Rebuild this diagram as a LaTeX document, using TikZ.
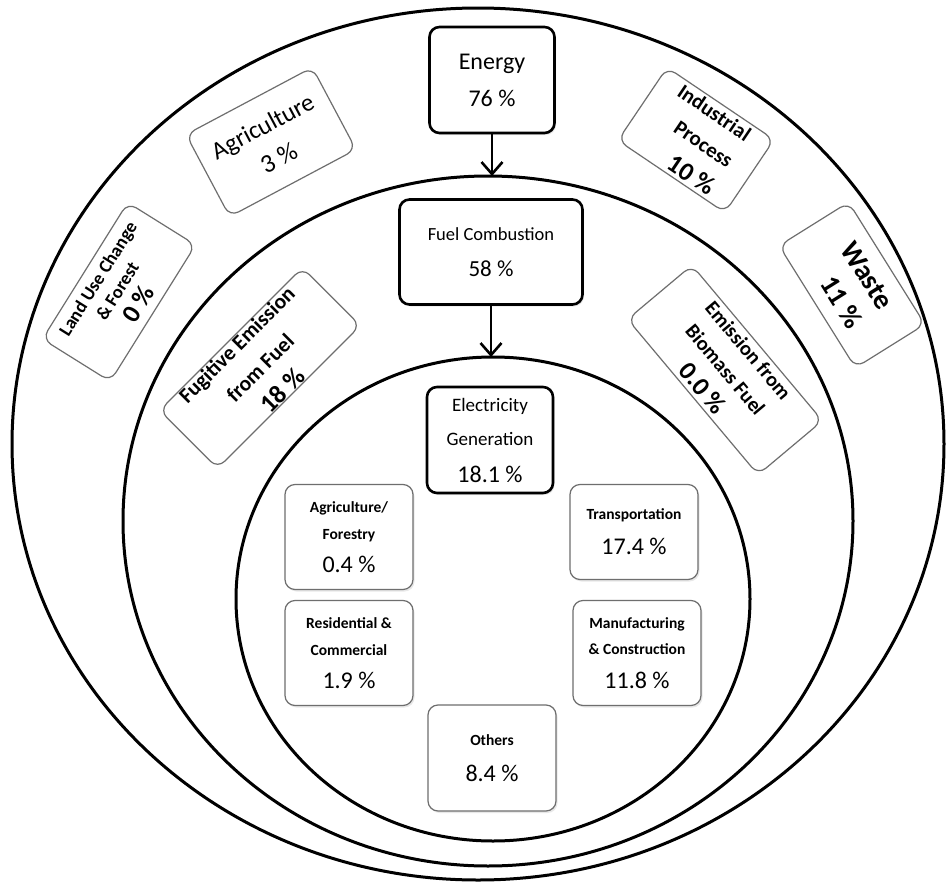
\documentclass[tikz,border=0pt]{standalone}
\usepackage{fontspec}
\setmainfont{Carlito}
\usetikzlibrary{arrows.meta,shadows}
\newcommand\myfs[2]{\fontsize{#1}{#2}\selectfont}
\definecolor{thinline}{HTML}{6E6E6E}
\begin{document}
\begin{tikzpicture}[x=1pt,y=-1pt,
  ring/.style={line width=3pt},
  soft/.style={drop shadow={opacity=0.18, shadow xshift=1.5pt, shadow yshift=-2pt}},
  mainbox/.style={draw, line width=2.6pt, rounded corners=10pt, align=center, inner sep=0pt, fill=white, soft},
  subbox/.style={draw=thinline, line width=1.2pt, rounded corners=10pt, align=center, inner sep=0pt, fill=white},
  flow/.style={line width=2.6pt, -{Straight Barb[length=12pt,width=21pt,line width=2.6pt]}}
]
\useasboundingbox[fill=white] (0,0) rectangle (946,886);
% rings
\draw[ring] (478,444) ellipse [x radius=466, y radius=436];
\draw[ring] (488,521) ellipse [x radius=365, y radius=345];
\draw[ring] (493,599) ellipse [x radius=257, y radius=242];
\coordinate (midtop) at (492,176);
\coordinate (intop) at (491,357);

% main chain
\node[mainbox, minimum width=125pt, minimum height=106pt, font=\myfs{24}{37}] (energy) at (492,80) {Energy\\76 \%};
\node[mainbox, minimum width=183pt, minimum height=105pt, font=\myfs{18.5}{36}] (fuel) at (491,252) {Fuel Combustion\\\myfs{23}{36}58 \%};
\node[mainbox, minimum width=126pt, minimum height=106pt, font=\myfs{19}{33}] (elec) at (490,440) {Electricity\\[1pt]Generation\\[4pt]\myfs{24}{33}18.1 \%};

\draw[flow] (energy.south) -- (energy.south |- midtop);
\draw[flow] (fuel.south) -- (fuel.south |- intop);

% outer ring boxes
\node[subbox, rotate=28, minimum width=143pt, minimum height=93pt, font=\myfs{25}{36}] (agri) at (271,142) {Agriculture\\\myfs{26}{36}3 \%};
\node[subbox, rotate=58, minimum width=161pt, minimum height=80pt, font=\bfseries\myfs{18.5}{23}] (land) at (119,292) {Land Use Change\\\& Forest\\[4pt]\bfseries\myfs{26}{23}0 \%};
\node[subbox, rotate=-34, minimum width=129pt, minimum height=88pt, align=right, font=\bfseries\myfs{21}{32}] (ind) at (696,140) {Industrial\\Process\\[2pt]\bfseries\myfs{26}{32}10 \%};
\node[subbox, rotate=-58, minimum width=144pt, minimum height=82pt, align=right, font=\bfseries\myfs{28.5}{36}] (waste) at (852,285) {Waste\\\bfseries\myfs{28}{36}11 \%};

% middle ring boxes
\node[subbox, rotate=45, minimum width=202pt, minimum height=82pt, font=\bfseries\myfs{21.5}{30}] (fug) at (260,368) {Fugitive Emission\\[3pt]from Fuel\\[3pt]\bfseries\myfs{26}{30}18 \%};
\node[subbox, rotate=-50, minimum width=203pt, minimum height=84pt, font=\bfseries\myfs{20.5}{29}] (bio) at (725,370) {Emission from\\[1pt]Biomass Fuel\\[2pt]\bfseries\myfs{26}{29}0.0 \%};

% inner ring boxes
\node[subbox, soft, minimum width=128pt, minimum height=105pt, font=\bfseries\myfs{15.5}{27}] (agfor) at (349,537) {Agriculture/\\Forestry\\[6pt]\mdseries\myfs{24}{27}0.4 \%};
\node[subbox, soft, minimum width=128pt, minimum height=105pt, font=\bfseries\myfs{15.5}{27}] (res) at (349,653) {Residential \&\\Commercial\\[6pt]\mdseries\myfs{24}{27}1.9 \%};
\node[subbox, soft, minimum width=128pt, minimum height=95pt, font=\bfseries\myfs{15.5}{35}] (trans) at (634,532) {Transportation\\\mdseries\myfs{24}{35}17.4 \%};
\node[subbox, soft, minimum width=128pt, minimum height=105pt, font=\bfseries\myfs{15.5}{26}] (manu) at (637,653) {Manufacturing\\\& Construction\\[8pt]\mdseries\myfs{24}{26}11.8 \%};
\node[subbox, soft, minimum width=128pt, minimum height=106pt, font=\bfseries\myfs{15.5}{36}] (others) at (492,758) {Others\\\mdseries\myfs{24}{36}8.4 \%};
\end{tikzpicture}
\end{document}
